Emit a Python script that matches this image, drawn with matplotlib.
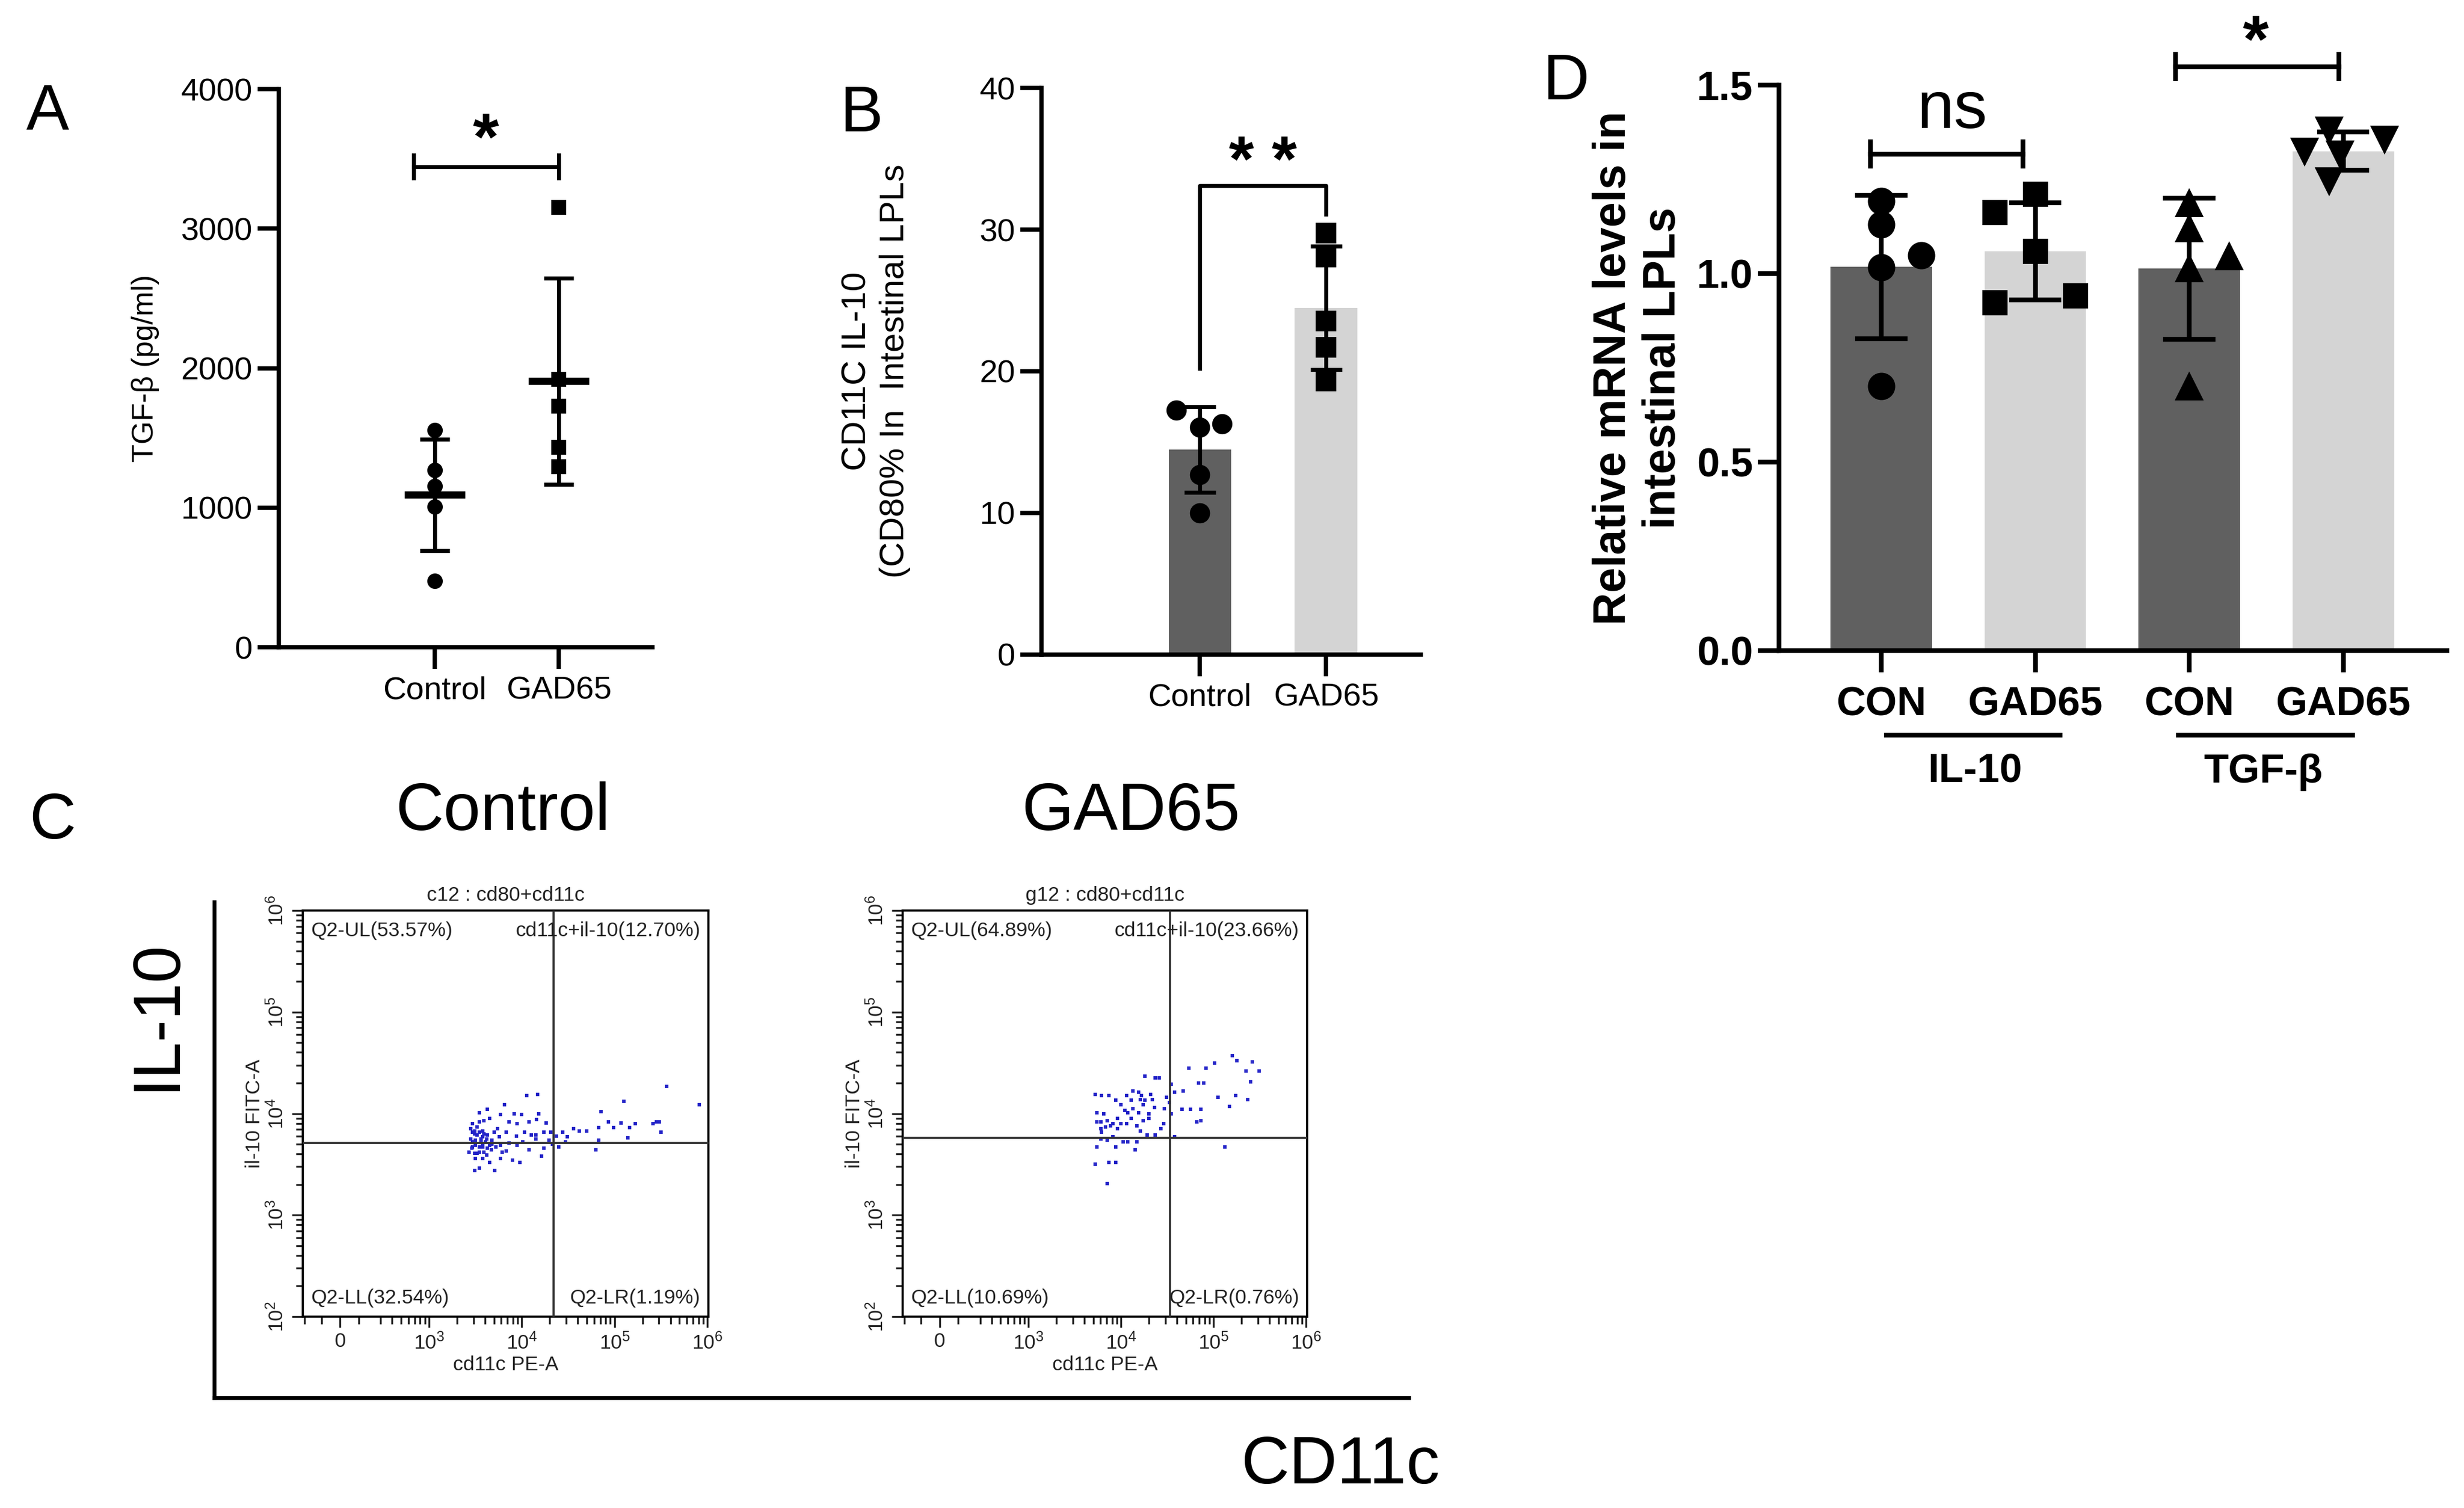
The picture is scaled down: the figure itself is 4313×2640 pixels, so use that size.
import numpy as np
import matplotlib
matplotlib.use("Agg")
import matplotlib.pyplot as plt
from matplotlib.ticker import FixedLocator

plt.rcParams['font.family'] = ['Liberation Sans', 'DejaVu Sans']
plt.rcParams['mathtext.fontset'] = 'custom'
plt.rcParams['mathtext.rm'] = 'Liberation Sans'
plt.rcParams['mathtext.it'] = 'Liberation Sans:italic'
plt.rcParams['mathtext.bf'] = 'Liberation Sans:bold'

DARK = '#606060'
LIGHT = '#d4d4d4'

# ---- Panel A: TGF-beta (pg/ml) ----
a_groups = ['Control', 'GAD65']
a_control = [1558, 1268, 1153, 1006, 477]
a_gad65 = [3154, 1920, 1729, 1432, 1296]

# ---- Panel B: CD11C IL-10 (CD80% in intestinal LPLs) ----
b_groups = ['Control', 'GAD65']
b_control = [17.24, 16.05, 16.3, 12.7, 10.0]
b_gad65 = [29.75, 28.07, 23.53, 21.68, 19.33]
b_control_jitter = [-0.185, 0.0, 0.175, 0.0, 0.0]
b_gad65_jitter = [0.0, 0.0, 0.0, 0.0, 0.0]

# ---- Panel D: relative mRNA levels ----
d_ticks = ['CON', 'GAD65', 'CON', 'GAD65']
d_genes = ['IL-10', 'TGF-β']
d_il10_con = [1.193, 1.130, 1.017, 1.049, 0.701]
d_il10_gad = [1.211, 1.162, 1.059, 0.923, 0.941]
d_tgf_con = [1.186, 1.120, 1.014, 1.046, 0.700]
d_tgf_gad = [1.324, 1.380, 1.317, 1.356, 1.246]
d_il10_con_jitter = [0.0, 0.0, 0.0, 0.26, 0.0]
d_il10_gad_jitter = [0.0, -0.26, 0.0, -0.26, 0.26]
d_tgf_con_jitter = [0.0, 0.0, 0.0, 0.26, 0.0]
d_tgf_gad_jitter = [-0.25, -0.09, -0.02, 0.27, -0.09]

# ---- Panel C: flow cytometry (log10 of cd11c PE-A, il-10 FITC-A) ----
flow_titles = ['c12 : cd80+cd11c', 'g12 : cd80+cd11c']
ctrl_quads = ['Q2-UL(53.57%)', 'cd11c+il-10(12.70%)', 'Q2-LL(32.54%)', 'Q2-LR(1.19%)']
gad_quads = ['Q2-UL(64.89%)', 'cd11c+il-10(23.66%)', 'Q2-LL(10.69%)', 'Q2-LR(0.76%)']
ctrl_gate = [4.34, 3.71]
gad_gate = [4.53, 3.76]

ctrl_cd11c = [4.05, 4.17, 3.81, 3.63, 3.54, 3.77, 3.92, 4.00, 4.18, 4.08, 4.16, 3.86, 3.95, 4.26,
              4.31, 4.24, 4.44, 4.56, 4.62, 4.70, 4.85, 4.83, 4.93, 4.99, 5.07, 5.10, 5.16, 5.22,
              5.41, 5.45, 5.48, 5.50, 5.56, 5.91, 5.14, 4.83, 4.80, 4.47, 4.40, 4.21, 4.08, 3.98,
              3.90, 3.77, 3.71, 3.49, 3.54, 3.65, 3.83, 3.77, 3.94, 4.03, 4.10, 4.15, 3.83, 3.76,
              3.68, 3.63, 3.58, 3.52, 3.47, 3.49, 3.47, 3.46, 3.49, 3.50, 3.54, 3.58, 3.61, 3.56,
              3.50, 3.45, 3.54, 3.59, 3.65, 3.58, 3.62, 3.67, 3.72, 3.70, 3.74, 3.43, 3.47, 3.45,
              3.56, 3.58, 3.63, 3.68, 4.15, 4.29, 4.37, 4.49, 4.33, 4.24, 4.01, 3.95, 3.86, 3.79,
              3.49, 3.52, 3.54, 3.59, 3.50, 3.58, 3.54, 3.47, 3.52, 3.59, 3.65, 3.62]
ctrl_il10 = [4.18, 4.19, 4.09, 4.04, 4.01, 3.99, 4.00, 3.99, 4.00, 3.92, 3.94, 3.92, 3.90, 3.91,
             3.82, 3.82, 3.82, 3.85, 3.83, 3.83, 4.02, 3.86, 3.92, 3.86, 3.91, 4.12, 3.86, 3.90,
             3.90, 3.92, 3.92, 3.82, 4.27, 4.09, 3.76, 3.74, 3.64, 3.72, 3.67, 3.58, 3.64, 3.52,
             3.54, 3.56, 3.44, 3.44, 3.46, 3.52, 3.63, 3.69, 3.78, 3.82, 3.79, 3.75, 3.82, 3.77,
             3.74, 3.79, 3.83, 3.87, 3.90, 3.80, 3.72, 3.66, 3.61, 3.56, 3.62, 3.67, 3.72, 3.75,
             3.69, 3.75, 3.92, 3.93, 3.95, 3.56, 3.59, 3.64, 3.67, 3.82, 3.85, 3.62, 3.82, 3.85,
             3.72, 3.77, 3.66, 3.70, 3.79, 3.74, 3.78, 3.77, 3.70, 3.66, 3.72, 3.69, 3.71, 3.62,
             3.83, 3.79, 3.82, 3.80, 3.74, 3.70, 3.67, 3.67, 3.61, 3.62, 3.69, 3.75]

gad_cd11c = [3.72, 3.79, 3.87, 3.94, 4.00, 4.06, 4.13, 4.19, 4.22, 4.32, 4.37, 4.41, 4.26, 4.49,
             4.58, 4.67, 4.73, 4.92, 5.01, 5.20, 5.25, 5.42, 5.35, 5.49, 4.84, 4.89, 5.05, 5.24,
             5.37, 5.17, 5.40, 4.66, 4.75, 4.86, 4.82, 4.86, 4.54, 4.47, 4.36, 4.30, 4.24, 4.19,
             4.13, 4.07, 4.04, 4.11, 4.17, 4.21, 4.28, 4.37, 4.43, 4.46, 3.74, 3.81, 3.78, 3.74,
             3.85, 3.91, 3.96, 4.00, 4.06, 3.89, 3.83, 3.79, 3.78, 3.85, 3.91, 3.94, 4.02, 4.07,
             4.17, 4.15, 3.74, 3.72, 3.87, 3.94, 3.85, 4.58, 5.12, 4.54, 4.52, 4.24, 4.30, 3.78,
             3.96, 4.11, 4.21, 4.26, 4.34]
gad_il10 = [4.19, 4.18, 4.18, 4.13, 4.09, 4.18, 4.22, 4.21, 4.18, 4.19, 4.35, 4.35, 4.37, 4.16,
            4.21, 4.22, 4.45, 4.45, 4.50, 4.57, 4.52, 4.51, 4.42, 4.42, 4.30, 4.30, 4.16, 4.18,
            4.14, 4.07, 4.31, 4.04, 4.04, 4.04, 3.92, 3.93, 4.00, 4.05, 4.06, 4.00, 3.93, 4.01,
            4.05, 4.01, 4.03, 3.95, 3.88, 3.83, 3.79, 3.79, 3.85, 3.90, 4.01, 4.00, 3.92, 3.92,
            3.93, 3.90, 3.85, 3.90, 3.90, 3.88, 3.87, 3.82, 3.75, 3.74, 3.77, 3.67, 3.72, 3.72,
            3.72, 3.64, 3.67, 3.50, 3.52, 3.52, 3.31, 3.77, 3.67, 4.29, 4.11, 4.09, 3.95, 3.85,
            3.95, 4.13, 4.14, 4.13, 4.14]

fig = plt.figure(figsize=(4313 / 300, 2640 / 300), dpi=300)


def style_axes(ax, lw=1.8):
    for s in ['top', 'right']:
        ax.spines[s].set_visible(False)
    for s in ['left', 'bottom']:
        ax.spines[s].set_linewidth(lw)
    ax.tick_params(direction='out', length=9, width=lw, labelsize=13.5, pad=2)


def mean_sd(vals):
    vals = np.asarray(vals, dtype=float)
    return vals.mean(), vals.std(ddof=1)


# ---------------- Panel A ----------------
axA = fig.add_axes([0.1131, 0.5708, 0.1517, 0.3701])
style_axes(axA)
axA.tick_params(axis='x', pad=3)
for i, vals in enumerate([a_control, a_gad65]):
    m, sd = mean_sd(vals)
    marker = 'o' if i == 0 else 's'
    axA.plot(np.full(len(vals), i), vals, ls='none', marker=marker, ms=5.5, color='black',
             clip_on=False, zorder=3)
    axA.hlines(m, i - 0.245, i + 0.245, color='black', lw=3.0, zorder=4)
    axA.vlines(i, m - sd, m + sd, color='black', lw=1.7, zorder=4)
    axA.hlines([m - sd, m + sd], i - 0.12, i + 0.12, color='black', lw=1.7, zorder=4)
axA.set_xlim(-1.26, 1.755)
axA.set_ylim(0, 4000)
axA.set_yticks([0, 1000, 2000, 3000, 4000])
axA.set_xticks([0, 1])
axA.set_xticklabels(a_groups)
axA.set_ylabel('TGF-β (pg/ml)', fontsize=12.5, labelpad=9)
axA.plot([-0.17, 1.0], [3444, 3444], color='black', lw=1.7, clip_on=False)
axA.vlines([-0.17, 1.0], 3350, 3540, color='black', lw=1.7)
axA.text(0.41, 3620, '*', ha='center', va='center', fontsize=28, fontweight='bold')

# ---------------- Panel B ----------------
axB = fig.add_axes([0.4227, 0.566, 0.1539, 0.3756])
style_axes(axB)
axB.tick_params(axis='x', pad=3)
b_sets = [(b_control, b_control_jitter, 'o', DARK), (b_gad65, b_gad65_jitter, 's', LIGHT)]
for i, (vals, jit, marker, col) in enumerate(b_sets):
    m, sd = mean_sd(vals)
    axB.bar(i, m, width=0.495, color=col, zorder=1)
    axB.vlines(i, m - sd, m + sd, color='black', lw=1.7, zorder=3)
    axB.hlines([m - sd, m + sd], i - 0.125, i + 0.125, color='black', lw=1.7, zorder=3)
    axB.plot(i + np.asarray(jit), vals, ls='none', marker=marker, ms=7.5, color='black', zorder=4)
axB.set_xlim(-1.254, 1.75)
axB.set_ylim(0, 40)
axB.set_yticks([0, 10, 20, 30, 40])
axB.set_xticks([0, 1])
axB.set_xticklabels(b_groups)
axB.set_ylabel('CD11C IL-10\n(CD80% In  Intestinal LPLs', fontsize=14.5, labelpad=29,
               multialignment='center', linespacing=1.25)
axB.plot([0, 0, 1, 1], [20.2, 33.1, 33.1, 31.1], color='black', lw=1.7)
axB.text(0.5, 34.6, '* *', ha='center', va='center', fontsize=27, fontweight='bold')

# ---------------- Panel D ----------------
axD = fig.add_axes([0.722, 0.5686, 0.271, 0.375])
style_axes(axD, lw=2.0)
axD.tick_params(axis='x', pad=6)
d_sets = [(d_il10_con, d_il10_con_jitter, 'o', DARK, 10.5),
          (d_il10_gad, d_il10_gad_jitter, 's', LIGHT, 9.5),
          (d_tgf_con, d_tgf_con_jitter, '^', DARK, 10.5),
          (d_tgf_gad, d_tgf_gad_jitter, 'v', LIGHT, 10.5)]
for i, (vals, jit, marker, col, ms) in enumerate(d_sets):
    m, sd = mean_sd(vals)
    axD.bar(i, m, width=0.66, color=col, zorder=1)
    axD.vlines(i, m - sd, m + sd, color='black', lw=2.0, zorder=3)
    axD.hlines([m - sd, m + sd], i - 0.17, i + 0.17, color='black', lw=2.0, zorder=3)
    axD.plot(i + np.asarray(jit), vals, ls='none', marker=marker, ms=ms, color='black', zorder=4)
axD.set_xlim(-0.664, 3.672)
axD.set_ylim(0, 1.5)
axD.set_yticks([0, 0.5, 1.0, 1.5])
axD.set_yticklabels(['0.0', '0.5', '1.0', '1.5'])
axD.set_xticks(range(4))
axD.set_xticklabels(d_ticks)
for lab in axD.get_xticklabels() + axD.get_yticklabels():
    lab.set_fontweight('bold')
    lab.set_fontsize(17)
axD.set_ylabel('Relative mRNA levels in\nintestinal LPLs', fontsize=19, fontweight='bold',
               labelpad=5, multialignment='center', linespacing=1.2)
tx = axD.get_xaxis_transform()
for (x0, x1, xc), gene in zip([(0.035, 1.16, 0.61), (1.93, 3.06, 2.48)], d_genes):
    axD.plot([x0, x1], [-0.15, -0.15], color='black', lw=2.0, transform=tx, clip_on=False)
    axD.text(xc, -0.215, gene, transform=tx, ha='center', va='center', fontsize=17,
             fontweight='bold')
axD.plot([-0.07, 0.92], [1.317, 1.317], color='black', lw=2.0, clip_on=False)
axD.vlines([-0.07, 0.92], 1.278, 1.356, color='black', lw=2.0, clip_on=False)
axD.text(0.46, 1.432, 'ns', ha='center', va='center', fontsize=28)
axD.plot([1.91, 2.97], [1.549, 1.549], color='black', lw=2.0, clip_on=False)
axD.vlines([1.91, 2.97], 1.51, 1.588, color='black', lw=2.0, clip_on=False)
axD.text(2.43, 1.607, '*', ha='center', va='center', fontsize=28, fontweight='bold')

# ---------------- Panel C ----------------
axC = fig.add_axes([0.0869, 0.0731, 0.4849, 0.3288])
for s in ['top', 'right']:
    axC.spines[s].set_visible(False)
for s in ['left', 'bottom']:
    axC.spines[s].set_linewidth(1.6)
axC.set_xticks([])
axC.set_yticks([])
axC.patch.set_alpha(0)

x_minor = [1.66, 1.84, 2.24] + [np.log10(k * 10.0 ** d) for d in range(2, 6) for k in range(3 if d == 2 else 2, 10)]
y_minor = [np.log10(k * 10.0 ** d) for d in range(2, 6) for k in range(2, 10)]
dec_labels = [r'$\mathregular{10^{%d}}$' % d for d in range(2, 7)]


def flow_panel(rect, title, cd11c, il10, gate, quads):
    ax = fig.add_axes(rect)
    ax.scatter(cd11c, il10, s=2.3, marker='s', lw=0, color='#2424c8', zorder=2)
    ax.axvline(gate[0], color='#333333', lw=0.9, zorder=3)
    ax.axhline(gate[1], color='#333333', lw=0.9, zorder=3)
    ax.set_xlim(1.64, 6.01)
    ax.set_ylim(2, 6)
    for s in ax.spines.values():
        s.set_linewidth(0.9)
    ax.set_xticks([2.04, 3, 4, 5, 6])
    ax.set_xticklabels(['0'] + dec_labels[1:])
    ax.xaxis.set_minor_locator(FixedLocator(x_minor))
    ax.set_yticks([2, 3, 4, 5, 6])
    ax.set_yticklabels(dec_labels, rotation=90, va='center')
    ax.yaxis.set_minor_locator(FixedLocator(y_minor))
    ax.tick_params(which='major', direction='out', length=4.5, width=0.8, labelsize=8.5,
                   pad=2, colors='#222222')
    ax.tick_params(which='minor', direction='out', length=3, width=0.8, colors='#222222')
    ax.set_title(title, fontsize=8.5, pad=4, color='#222222')
    ax.set_xlabel('cd11c PE-A', fontsize=8.5, labelpad=1, color='#222222')
    ax.set_ylabel('il-10 FITC-A', fontsize=8.5, labelpad=1, color='#222222')
    kw = dict(transform=ax.transAxes, fontsize=8.5, va='center', color='#222222')
    ax.text(0.02, 0.95, quads[0], ha='left', **kw)
    ax.text(0.98, 0.95, quads[1], ha='right', **kw)
    ax.text(0.02, 0.045, quads[2], ha='left', **kw)
    ax.text(0.98, 0.045, quads[3], ha='right', **kw)
    return ax


flow_panel([0.1229, 0.1269, 0.1646, 0.2693], flow_titles[0], ctrl_cd11c, ctrl_il10, ctrl_gate, ctrl_quads)
flow_panel([0.3663, 0.1269, 0.1642, 0.2693], flow_titles[1], gad_cd11c, gad_il10, gad_gate, gad_quads)

fig.text(0.204, 0.461, 'Control', ha='center', va='center', fontsize=28)
fig.text(0.459, 0.461, 'GAD65', ha='center', va='center', fontsize=28)
fig.text(0.0638, 0.327, 'IL-10', ha='center', va='center', fontsize=28, rotation=90)
fig.text(0.544, 0.0277, 'CD11c', ha='center', va='center', fontsize=28)

# panel letters
for x, y, letter in [(0.0192, 0.925, 'A'), (0.3496, 0.924, 'B'), (0.6355, 0.945, 'D'),
                     (0.0213, 0.455, 'C')]:
    fig.text(x, y, letter, ha='center', va='center', fontsize=27)

fig.savefig('out.png', dpi=300)
